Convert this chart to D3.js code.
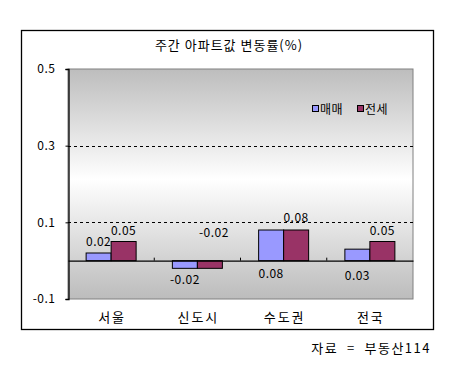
<!DOCTYPE html>
<html>
<head>
<meta charset="utf-8">
<script src="https://cdn.jsdelivr.net/npm/d3@7"></script>
<style>
  body { margin: 0; background: #fff; }
  text { font-family: "Noto Sans CJK KR", "DejaVu Sans", sans-serif; fill: #000; }
</style>
</head>
<body>
<div id="chart"></div>
<script>
// 주간 아파트값 변동률 bar chart

const categories = ["서울", "신도시", "수도권", "전국"];
const seriesNames = ["매매", "전세"];
const saleValues = [0.02, -0.02, 0.08, 0.03];
const jeonseValues = [0.05, -0.02, 0.08, 0.05];
const yTicks = [-0.1, 0.1, 0.3, 0.5];

const width = 460,
    height = 366,
    margin = ({ top: 69, right: 47, bottom: 67, left: 68 });

const colors = ["#9999ff", "#993366"];

const svg = d3.select("#chart")
    .append("svg")
    .attr("width", width)
    .attr("height", height);

// plot background gradient (gray - white - gray)
const grad = svg.append("defs").append("linearGradient")
    .attr("id", "bg")
    .attr("x1", 0).attr("y1", 0).attr("x2", 0).attr("y2", 1);
grad.append("stop").attr("offset", "0%").attr("stop-color", "#bdbdbd");
grad.append("stop").attr("offset", "48%").attr("stop-color", "#ffffff");
grad.append("stop").attr("offset", "100%").attr("stop-color", "#bcbcbc");

// outer frame
svg.append("rect")
    .attr("x", 21.5).attr("y", 30.5)
    .attr("width", 412).attr("height", 299)
    .attr("fill", "#fff")
    .attr("stroke", "#000")
    .attr("stroke-width", 1.3);

let x = d3.scaleBand()
    .domain(categories)
    .range([margin.left, width - margin.right]);

let x1 = d3.scaleBand()
    .domain(seriesNames)
    .range([0, 50])
    .padding(0);

let y = d3.scaleLinear()
    .domain([-0.1, 0.5])
    .range([height - margin.bottom, margin.top]);

// plot area
svg.append("rect")
    .attr("x", margin.left).attr("y", margin.top)
    .attr("width", width - margin.left - margin.right)
    .attr("height", y(-0.1) - y(0.5))
    .attr("fill", "url(#bg)")
    .attr("stroke", "#808080");

// dashed gridlines
svg.append("g")
    .selectAll("line")
    .data([0.1, 0.3])
    .join("line")
    .attr("x1", margin.left).attr("x2", width - margin.right)
    .attr("y1", d => Math.round(y(d)) + 0.5)
    .attr("y2", d => Math.round(y(d)) + 0.5)
    .attr("stroke", "#000")
    .attr("stroke-dasharray", "3,3");

// y axis
svg.append("g")
    .attr("transform", `translate(${margin.left + 0.5},0)`)
    .call(d3.axisLeft(y)
      .tickValues(yTicks)
      .tickSize(3)
      .tickPadding(10)
      .tickFormat(d3.format(".1f")))
    .call(g => g.select(".domain").attr("stroke", "#000").attr("stroke-width", 1.3))
    .call(g => g.selectAll("text")
      .attr("font-size", 12)
      .attr("fill", "#222")
      .attr("letter-spacing", 0.5)
      .text(d => d < 0 ? "-" + d3.format(".1f")(-d) : d3.format(".1f")(d)));

const groupOffset = (x.bandwidth() - 50) / 2;

// bars
const groups = svg.append("g")
    .selectAll("g")
    .data(categories)
    .join("g")
    .attr("transform", d => `translate(${x(d) + groupOffset},0)`);

groups.selectAll("rect")
    .data((d, i) => [
      { key: seriesNames[0], value: saleValues[i] },
      { key: seriesNames[1], value: jeonseValues[i] }
    ])
    .join("rect")
    .attr("x", d => x1(d.key))
    .attr("y", d => y(Math.max(0, d.value)))
    .attr("width", x1.bandwidth())
    .attr("height", d => Math.abs(y(d.value) - y(0)))
    .attr("fill", (d, j) => colors[j])
    .attr("stroke", "#000")
    .attr("stroke-width", 1);

// zero line with category ticks
svg.append("g")
    .attr("transform", `translate(0,${y(0)})`)
    .call(d3.axisTop(x).tickSize(3).tickFormat("").tickSizeOuter(0))
    .call(g => g.select(".domain").attr("stroke", "#000").attr("stroke-width", 1.3))
    .call(g => g.selectAll(".tick line").attr("transform", `translate(${x.bandwidth() / 2},0)`))
    .call(g => g.selectAll(".tick").filter((d, i) => i === categories.length - 1).remove());

// category labels
svg.append("g")
    .selectAll("text")
    .data(categories)
    .join("text")
    .attr("x", d => x(d) + x.bandwidth() / 2 + 1)
    .attr("y", 322)
    .attr("text-anchor", "middle")
    .attr("font-size", 13)
    .attr("letter-spacing", 2)
    .text(d => d);

// value labels (Excel-like placements: [anchor, dy])
const labelPlace = [
  [["end", -7], ["end", -7]],
  [["end", 16], ["zero", -24]],
  [["zero", 17], ["end", -8]],
  [["zero", 19], ["end", -7]]
];

groups.each(function(c, i) {
  const vals = [saleValues[i], jeonseValues[i]];
  d3.select(this).selectAll("text.val")
    .data(vals)
    .join("text")
    .attr("class", "val")
    .attr("x", (v, j) => x1(seriesNames[j]) + x1.bandwidth() / 2 + (i === 1 && j === 1 ? 4 : 0))
    .attr("y", (v, j) => {
      const p = labelPlace[i][j];
      return (p[0] === "end" ? y(v) : y(0)) + p[1];
    })
    .attr("text-anchor", "middle")
    .attr("font-size", 12)
    .attr("letter-spacing", 0.5)
    .text(v => v < 0 ? "-" + (-v).toFixed(2) : v.toFixed(2));
});

// title
svg.append("text")
    .attr("x", 229)
    .attr("y", 50)
    .attr("text-anchor", "middle")
    .attr("font-size", 13)
    .attr("letter-spacing", 1)
    .text("주간 아파트값 변동률(%)");

// legend
const legend = svg.append("g")
    .attr("transform", "translate(312,109)");

legend.selectAll("rect")
    .data(seriesNames)
    .join("rect")
    .attr("x", (d, i) => i * 45 + 0.5)
    .attr("y", -3.5)
    .attr("width", 6).attr("height", 6)
    .attr("fill", (d, i) => colors[i])
    .attr("stroke", "#000");

legend.selectAll("text")
    .data(seriesNames)
    .join("text")
    .attr("x", (d, i) => i * 45 + 8)
    .attr("y", 5)
    .attr("font-size", 12)
    .attr("letter-spacing", 0.5)
    .text(d => d);

// source note
svg.append("text")
    .attr("x", 431)
    .attr("y", 353)
    .attr("text-anchor", "end")
    .attr("font-size", 13)
    .attr("letter-spacing", 1.5)
    .attr("xml:space", "preserve")
    .text("자료  =  부동산114");
</script>
</body>
</html>
